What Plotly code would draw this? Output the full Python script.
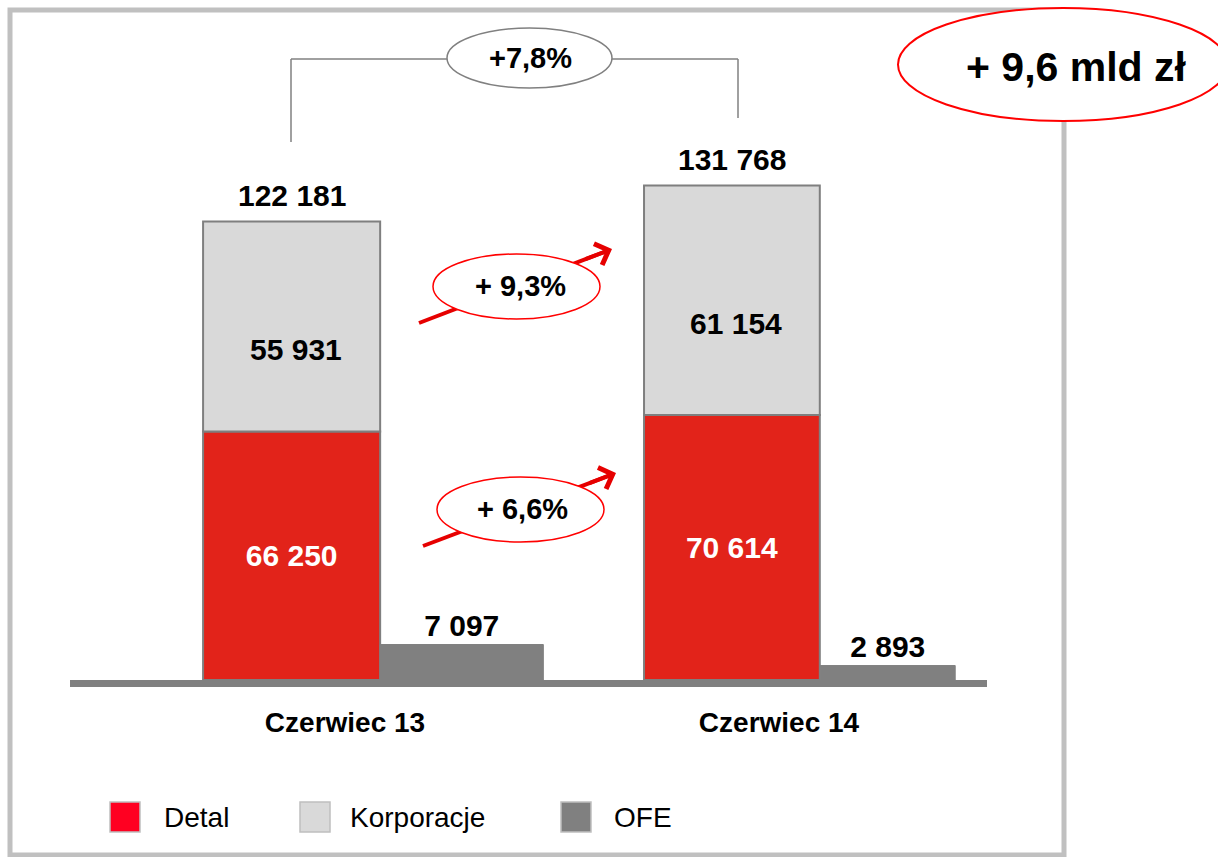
import plotly.graph_objects as go

# data (mln zł)
categories = ['Czerwiec 13', 'Czerwiec 14']
series_names = ['Detal', 'Korporacje', 'OFE']
detal = [66250, 70614]
korporacje = [55931, 61154]
ofe = [7097, 2893]
growth_total = '+7,8%'
growth_korporacje = '+ 9,3%'
growth_detal = '+ 6,6%'
headline = '+ 9,6 mld zł'

# page geometry (pixels)
W, H = 1218, 857
PLOT_BOTTOM = 680
FONT = 'Liberation Sans, Arial, sans-serif'

RED = '#E2231A'
LIGHT = '#D9D9D9'
GREY = '#808080'
EDGE = '#7F7F7F'


def px(x):
    return x / W


def py(y):
    return (PLOT_BOTTOM - y) / PLOT_BOTTOM


def fmt(v):
    return f'{v:,}'.replace(',', ' ')


x_pos = [0, 1]
stack_offset = [-0.327, -0.311]
stack_width = [0.408, 0.405]
ofe_offset = [0.081, 0.095]
ofe_width = [0.376, 0.311]

fig = go.Figure()

fig.add_trace(go.Bar(
    x=x_pos, y=detal, name=series_names[0],
    offset=stack_offset, width=stack_width,
    marker=dict(color=RED, line=dict(color=EDGE, width=2)),
    text=[fmt(v) for v in detal], textposition='inside',
    insidetextanchor='middle',
    textfont=dict(family=FONT, size=30, color='white', weight='bold'),
    showlegend=False,
))

fig.add_trace(go.Bar(
    x=x_pos, y=korporacje, base=detal, name=series_names[1],
    offset=stack_offset, width=stack_width,
    marker=dict(color=LIGHT, line=dict(color=EDGE, width=2)),
    showlegend=False,
))

fig.add_trace(go.Bar(
    x=x_pos, y=ofe, name=series_names[2], yaxis='y2',
    offset=ofe_offset, width=ofe_width,
    marker=dict(color=GREY, line=dict(color=GREY, width=1)),
    text=[fmt(v) for v in ofe], textposition='outside',
    textfont=dict(family=FONT, size=30, color='black', weight='bold'),
    cliponaxis=False,
    showlegend=False,
))

annotations = []
for i in range(len(categories)):
    cx = x_pos[i] + stack_offset[i] + stack_width[i] / 2
    total = detal[i] + korporacje[i]
    annotations.append(dict(
        x=cx, y=detal[i] + korporacje[i] / 2, xref='x', yref='y',
        xanchor='center', yanchor='middle',
        text=fmt(korporacje[i]), showarrow=False, yshift=-23, xshift=4,
        font=dict(family=FONT, size=30, color='black', weight='bold')))
    annotations.append(dict(
        x=cx, y=total, xref='x', yref='y', xanchor='center', yanchor='bottom',
        text=fmt(total), showarrow=False, yshift=8,
        font=dict(family=FONT, size=30, color='black', weight='bold')))


def label(x, y, text, size, weight='bold', xanchor='center'):
    return dict(x=px(x), y=py(y), xref='paper', yref='paper',
                xanchor=xanchor, yanchor='middle', text=text, showarrow=False,
                font=dict(family=FONT, size=size, color='black', weight=weight))


shapes = []
# outer frame
shapes.append(dict(type='rect', xref='paper', yref='paper',
                   x0=px(10), x1=px(1064), y0=py(855), y1=py(10),
                   line=dict(color='#C0C0C0', width=5), layer='above'))
# baseline
shapes.append(dict(type='rect', xref='paper', yref='paper',
                   x0=px(70), x1=px(987), y0=py(687), y1=py(680),
                   fillcolor=GREY, line=dict(width=0), layer='above'))
# bracket for total growth
for (xa, ya, xb, yb) in [(291, 142, 291, 59), (291, 59, 738, 59), (738, 59, 738, 118)]:
    shapes.append(dict(type='line', xref='paper', yref='paper',
                       x0=px(xa), y0=py(ya), x1=px(xb), y1=py(yb),
                       line=dict(color=GREY, width=1.5), layer='above'))
shapes.append(dict(type='circle', xref='paper', yref='paper',
                   x0=px(447), x1=px(612), y0=py(88), y1=py(28),
                   fillcolor='white', line=dict(color=GREY, width=1.5), layer='above'))
annotations.append(label(530, 58, growth_total, 29))

# growth arrows with red ellipses
arrows = [
    ((419, 323), (612, 249), (433, 600, 254, 319), (520, 286), growth_korporacje),
    ((423, 546), (616, 473), (437, 604, 477, 542), (522, 509), growth_detal),
]
for (x0, y0), (x1, y1), (ex0, ex1, ey0, ey1), (tx, ty), text in arrows:
    shapes.append(dict(type='line', xref='paper', yref='paper',
                       x0=px(x0), y0=py(y0), x1=px(x1 - 6), y1=py(y1 + 2.3),
                       line=dict(color='#E60000', width=4), layer='above'))
    shapes.append(dict(type='circle', xref='paper', yref='paper',
                       x0=px(ex0), x1=px(ex1), y0=py(ey1), y1=py(ey0),
                       fillcolor='white', line=dict(color='#FF0000', width=1.5),
                       layer='above'))
    dx, dy = x1 - x0, y1 - y0
    n = (dx ** 2 + dy ** 2) ** 0.5
    annotations.append(dict(x=px(x1), y=py(y1), xref='paper', yref='paper',
                            ax=-dx / n * 30, ay=-dy / n * 30, text='',
                            showarrow=True, arrowhead=4, arrowsize=1.1,
                            arrowwidth=4, arrowcolor='#E60000'))
    annotations.append(label(tx, ty, text, 29))

# headline ellipse
shapes.append(dict(type='circle', xref='paper', yref='paper',
                   x0=px(898), x1=px(1228), y0=py(121), y1=py(8),
                   fillcolor='white', line=dict(color='#FF0000', width=2), layer='above'))
annotations.append(label(1076, 67, headline, 41))

# legend
legend_colors = ['#FF0021', LIGHT, GREY]
legend_box_x = [110, 300, 561]
legend_text_x = [162, 348, 612]
for name, col, bx, tx in zip(series_names, legend_colors, legend_box_x, legend_text_x):
    shapes.append(dict(type='rect', xref='paper', yref='paper',
                       x0=px(bx), x1=px(bx + 30), y0=py(832), y1=py(802),
                       fillcolor=col, line=dict(color='#BFBFBF', width=1.5), layer='above'))
    annotations.append(label(tx, 817, name, 28, weight='normal', xanchor='left'))

x_unit = 434
x_start = -345 / x_unit

fig.update_layout(
    width=W, height=H,
    margin=dict(l=0, r=0, t=0, b=H - PLOT_BOTTOM, pad=0),
    barmode='overlay',
    paper_bgcolor='white',
    plot_bgcolor='rgba(0,0,0,0)',
    xaxis=dict(range=[x_start, x_start + W / x_unit], tickvals=x_pos,
               ticktext=categories, showgrid=False, zeroline=False,
               showline=False, ticks='', ticklabelstandoff=23,
               tickfont=dict(family=FONT, size=28, color='black', weight='bold')),
    yaxis=dict(range=[0, PLOT_BOTTOM * 266.5], visible=False),
    yaxis2=dict(range=[0, PLOT_BOTTOM * 200], overlaying='y', visible=False),
    shapes=shapes,
    annotations=annotations,
    showlegend=False,
)

fig.write_html(
    'out.html',
    config={'displayModeBar': False},
    post_script="document.body.style.margin='0';"
                "document.documentElement.style.overflow='hidden';",
)
